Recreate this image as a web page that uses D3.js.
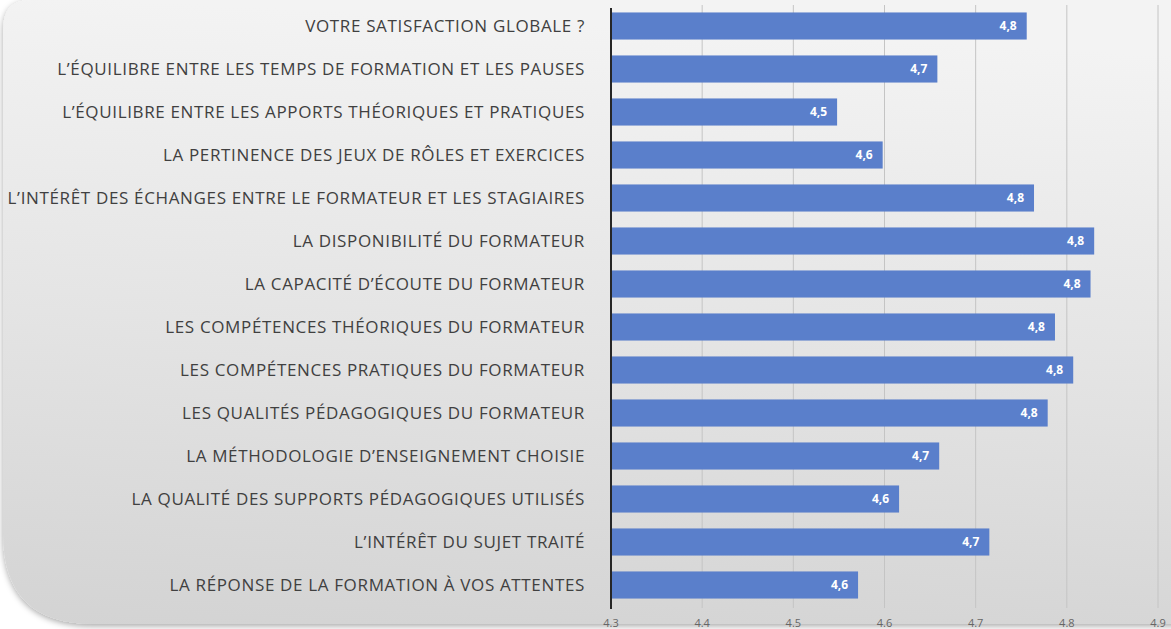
<!DOCTYPE html>
<html lang="fr">
<head>
  <meta charset="UTF-8">
  <title>satisfaction</title>
  <style>
    * { padding: 0; margin: 0; }
    body { background: #fff; }
  </style>
</head>
<body>
  <script src="https://d3js.org/d3.v7.min.js"></script>
  <script>
    const width = 1171;
    const height = 629;

    const categories = [
      'VOTRE SATISFACTION GLOBALE ?',
      'L\u2019ÉQUILIBRE ENTRE LES TEMPS DE FORMATION ET LES PAUSES',
      'L\u2019ÉQUILIBRE ENTRE LES APPORTS THÉORIQUES ET PRATIQUES',
      'LA PERTINENCE DES JEUX DE RÔLES ET EXERCICES',
      'L\u2019INTÉRÊT DES ÉCHANGES ENTRE LE FORMATEUR ET LES STAGIAIRES',
      'LA DISPONIBILITÉ DU FORMATEUR',
      'LA CAPACITÉ D\u2019ÉCOUTE DU FORMATEUR',
      'LES COMPÉTENCES THÉORIQUES DU FORMATEUR',
      'LES COMPÉTENCES PRATIQUES DU FORMATEUR',
      'LES QUALITÉS PÉDAGOGIQUES DU FORMATEUR',
      'LA MÉTHODOLOGIE D\u2019ENSEIGNEMENT CHOISIE',
      'LA QUALITÉ DES SUPPORTS PÉDAGOGIQUES UTILISÉS',
      'L\u2019INTÉRÊT DU SUJET TRAITÉ',
      'LA RÉPONSE DE LA FORMATION À VOS ATTENTES'
    ];
    const values = [4.756, 4.658, 4.548, 4.598, 4.764, 4.830, 4.826, 4.787, 4.807, 4.779, 4.660, 4.616, 4.715, 4.571];
    const ticks = [4.3, 4.4, 4.5, 4.6, 4.7, 4.8, 4.9];

    const svg = d3.select('body')
      .append('svg')
      .attr('width', width)
      .attr('height', height);

    const defs = svg.append('defs');
    const grad = defs.append('linearGradient')
      .attr('id', 'bg')
      .attr('x1', 0.1).attr('y1', 0)
      .attr('x2', 0).attr('y2', 1);
    grad.append('stop').attr('offset', 0).attr('stop-color', '#f3f3f3');
    grad.append('stop').attr('offset', 0.5).attr('stop-color', '#e4e4e4');
    grad.append('stop').attr('offset', 1).attr('stop-color', '#d3d3d3');

    const shadow = defs.append('filter').attr('id', 'shadow')
      .attr('x', -0.05).attr('y', -0.05).attr('width', 1.1).attr('height', 1.1);
    shadow.append('feDropShadow')
      .attr('dx', 0).attr('dy', 2)
      .attr('stdDeviation', 3)
      .attr('flood-color', '#000')
      .attr('flood-opacity', 0.35);

    // background card, big rounded bottom-left corner
    const r = 90;
    svg.append('path')
      .attr('d', `M 30 0 L ${width + 20} 0 L ${width + 20} 624 L ${3 + r} 624 Q 3 624 3 ${624 - r} L 3 30 Q 3 0 30 0 Z`)
      .attr('fill', 'url(#bg)')
      .attr('filter', 'url(#shadow)');

    const x = d3.scaleLinear()
      .domain([4.3, 4.9])
      .range([611, 1158]);

    const y = d3.scaleBand()
      .domain(categories)
      .range([4.5, 606.5])
      .paddingInner(0.37)
      .paddingOuter(0.185);

    // gridlines
    svg.append('g')
      .selectAll('line')
      .data(ticks.slice(1))
      .join('line')
      .attr('x1', d => x(d)).attr('x2', d => x(d))
      .attr('y1', 5).attr('y2', 608)
      .attr('stroke', '#c4c4c4')
      .attr('stroke-width', 1);

    // bars
    svg.append('g')
      .selectAll('rect')
      .data(values)
      .join('rect')
      .attr('x', x(4.3))
      .attr('y', (d, i) => y(categories[i]))
      .attr('width', d => x(d) - x(4.3))
      .attr('height', y.bandwidth())
      .attr('fill', '#5a7fcb');

    // value labels
    const fmt = d3.format('.1f');
    svg.append('g')
      .selectAll('text')
      .data(values)
      .join('text')
      .attr('x', d => x(d) - 10)
      .attr('y', (d, i) => y(categories[i]) + y.bandwidth() / 2)
      .attr('dy', '0.35em')
      .attr('text-anchor', 'end')
      .attr('fill', '#fff')
      .attr('font-family', 'Open Sans, sans-serif')
      .attr('font-weight', 'bold')
      .attr('font-size', 12)
      .text(d => fmt(d).replace('.', ','));

    // category labels
    svg.append('g')
      .selectAll('text')
      .data(categories)
      .join('text')
      .attr('x', 585)
      .attr('y', d => y(d) + y.bandwidth() / 2)
      .attr('dy', '0.36em')
      .attr('text-anchor', 'end')
      .attr('fill', '#404040')
      .attr('font-family', 'Open Sans, sans-serif')
      .attr('font-size', 17)
      .attr('letter-spacing', 0.65)
      .text(d => d);

    // left axis line
    svg.append('line')
      .attr('x1', x(4.3)).attr('x2', x(4.3))
      .attr('y1', 8).attr('y2', 609)
      .attr('stroke', '#262626')
      .attr('stroke-width', 2);

    // x tick labels
    svg.append('g')
      .selectAll('text')
      .data(ticks)
      .join('text')
      .attr('x', d => x(d))
      .attr('y', 627)
      .attr('text-anchor', 'middle')
      .attr('fill', '#666')
      .attr('font-family', 'Open Sans, sans-serif')
      .attr('font-size', 11)
      .text(d => d.toFixed(1));
  </script>
</body>
</html>
